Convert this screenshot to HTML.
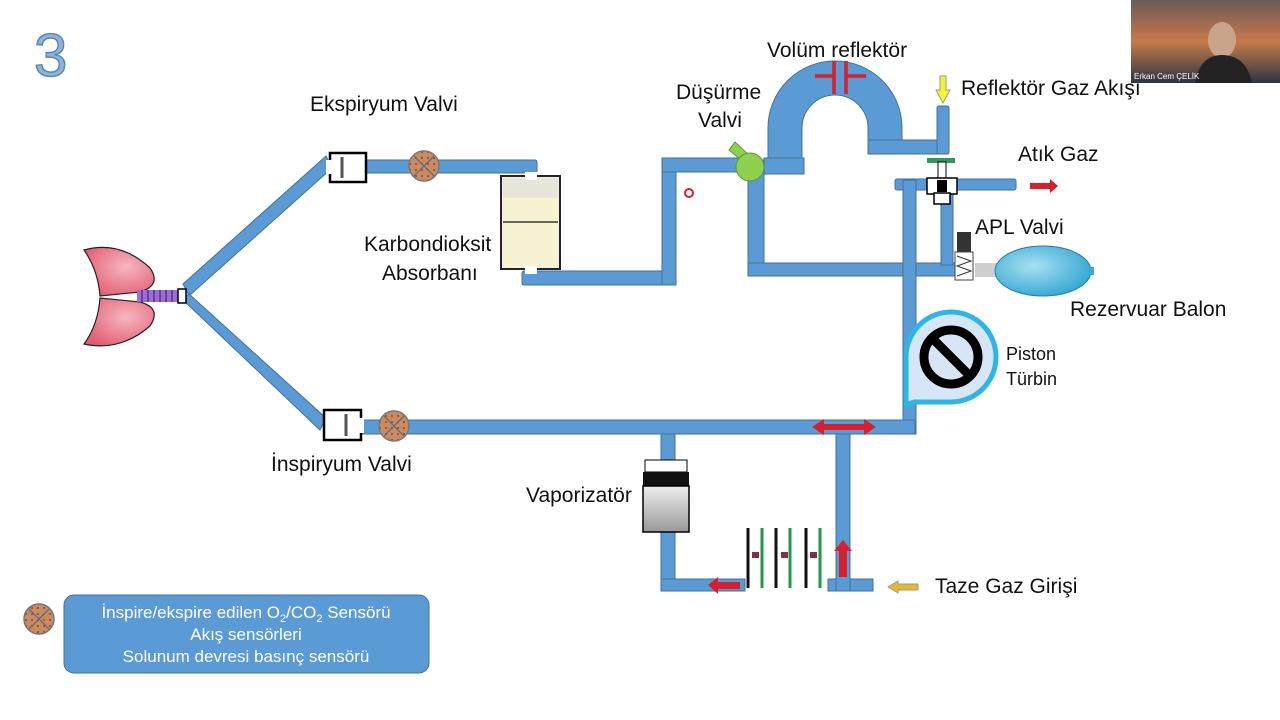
<!DOCTYPE html>
<html><head><meta charset="utf-8"><style>
html,body{margin:0;padding:0;background:#fff}
svg{display:block}
text{font-family:"Liberation Sans",sans-serif;fill:#111}
</style></head><body>
<svg width="1280" height="720" viewBox="0 0 1280 720" xmlns="http://www.w3.org/2000/svg">
<defs>
<radialGradient id="lung" cx="0.6" cy="0.4" r="0.7"><stop offset="0" stop-color="#f7b6c0"/><stop offset="1" stop-color="#e05a6e"/></radialGradient>
<radialGradient id="bag" cx="0.4" cy="0.4" r="0.7"><stop offset="0" stop-color="#a8e0f2"/><stop offset="1" stop-color="#2aa2cf"/></radialGradient>
<linearGradient id="vap" x1="0" y1="0" x2="0" y2="1"><stop offset="0" stop-color="#eee"/><stop offset="1" stop-color="#999"/></linearGradient>
<pattern id="sens" width="6" height="6" patternUnits="userSpaceOnUse"><rect width="6" height="6" fill="#c98b62"/><circle cx="2" cy="2" r="1" fill="#8a4b2a"/></pattern>
<linearGradient id="cam" x1="0" y1="0" x2="0" y2="1"><stop offset="0" stop-color="#6a5a58"/><stop offset="0.5" stop-color="#c77a4a"/><stop offset="1" stop-color="#2b3540"/></linearGradient>
</defs>
<rect width="1280" height="720" fill="#fff"/>
<text x="34" y="76" font-size="60" fill="#8fb4dc" stroke="#5b87b5" stroke-width="1.5" style="fill:#8fb4dc">3</text>

<g fill="#5b9bd5" stroke="#41719c" stroke-width="1">
<polygon points="183,284 326,156 332,168 189,296"/>
<polygon points="183,300 189,294 326,418 320,430"/>
<rect x="364" y="160" width="173" height="13" rx="2"/>
<rect x="522" y="271" width="154" height="14" rx="2"/>
<rect x="662" y="158" width="14" height="127"/>
<rect x="662" y="158" width="90" height="14"/>
<rect x="748" y="160" width="16" height="116"/>
<rect x="748" y="263" width="212" height="13"/>
<path d="M768,174 L768,128 A67,67 0 0 1 902,128 L902,154 L868,154 L868,128 A33,33 0 0 0 802,128 L802,174 Z"/>
<rect x="868" y="140" width="80" height="14"/>
<rect x="937" y="106" width="12" height="48" rx="2"/>
<rect x="764" y="158" width="40" height="16"/>
<rect x="895" y="179" width="121" height="11" rx="2"/>
<rect x="903" y="180" width="13" height="254"/>
<rect x="941" y="190" width="12" height="75"/>
<rect x="360" y="420" width="555" height="14" rx="2"/>
<rect x="661" y="434" width="14" height="28"/>
<rect x="661" y="530" width="14" height="61"/>
<rect x="661" y="579" width="84" height="12"/>
<rect x="828" y="579" width="45" height="12"/>
<rect x="836" y="434" width="14" height="157"/>
</g>

<path d="M84,250 Q120,240 150,268 Q162,285 140,292 L100,296 Q98,270 84,250Z" fill="url(#lung)" stroke="#222" stroke-width="1.2"/>
<path d="M84,344 Q120,352 150,326 Q162,308 140,302 L100,298 Q98,325 84,344Z" fill="url(#lung)" stroke="#222" stroke-width="1.2"/>
<rect x="137" y="290" width="44" height="12" fill="#9b6fd0"/>
<g stroke="#5a2f99" stroke-width="1.5"><line x1="142" y1="290" x2="142" y2="302"/><line x1="148" y1="290" x2="148" y2="302"/><line x1="154" y1="290" x2="154" y2="302"/><line x1="160" y1="290" x2="160" y2="302"/><line x1="166" y1="290" x2="166" y2="302"/><line x1="172" y1="290" x2="172" y2="302"/></g>
<rect x="178" y="289" width="8" height="14" fill="#fff" stroke="#000" stroke-width="1.5"/>

<rect x="330" y="153" width="36" height="29" fill="#fff" stroke="#000" stroke-width="2.5"/>
<rect x="326" y="160" width="10" height="14" fill="#fff"/>
<line x1="342" y1="157" x2="342" y2="178" stroke="#555" stroke-width="3"/>
<rect x="324" y="410" width="37" height="30" fill="#fff" stroke="#000" stroke-width="2.5"/>
<rect x="354" y="418" width="10" height="15" fill="#fff"/>
<line x1="346" y1="414" x2="346" y2="436" stroke="#555" stroke-width="3"/>
<g stroke="#777" stroke-width="1.5"><circle cx="424" cy="166" r="15" fill="url(#sens)"/><circle cx="394" cy="426" r="15" fill="url(#sens)"/><circle cx="39" cy="619" r="15" fill="url(#sens)"/></g>
<g stroke="#667" stroke-width="1.2"><line x1="414" y1="156" x2="434" y2="176"/><line x1="434" y1="156" x2="414" y2="176"/><line x1="384" y1="416" x2="404" y2="436"/><line x1="404" y1="416" x2="384" y2="436"/><line x1="29" y1="609" x2="49" y2="629"/><line x1="49" y1="609" x2="29" y2="629"/></g>

<rect x="501" y="176" width="59" height="93" fill="#f7f2d2" stroke="#223" stroke-width="2"/>
<rect x="503" y="178" width="55" height="20" fill="#ddd" opacity="0.6"/>
<line x1="503" y1="222" x2="558" y2="222" stroke="#665" stroke-width="2"/>
<rect x="525" y="172" width="12" height="8" fill="#fff"/>
<rect x="525" y="266" width="12" height="8" fill="#fff"/>

<polygon points="729,150 735,142 752,158 746,164" fill="#8fd14f" stroke="#5a9a2e"/>
<circle cx="750" cy="167" r="14" fill="#8fd14f" stroke="#5a9a2e"/>

<g stroke="#d81f2a" stroke-width="3.5"><line x1="834" y1="61" x2="834" y2="94"/><line x1="846" y1="61" x2="846" y2="94"/><line x1="815" y1="76" x2="834" y2="76"/><line x1="846" y1="76" x2="866" y2="76"/></g>
<polygon points="940,76 946,76 946,90 950,90 943,103 936,90 940,90" fill="#f5f52a" stroke="#999"/>

<rect x="927" y="158" width="28" height="5" fill="#2e9a5a"/>
<rect x="938" y="162" width="8" height="20" fill="#fff" stroke="#000"/>
<rect x="927" y="178" width="30" height="16" fill="#fff" stroke="#000" stroke-width="1.5"/>
<rect x="937" y="180" width="10" height="12" fill="#000"/>
<rect x="934" y="193" width="16" height="11" fill="#fff" stroke="#000" stroke-width="1.5"/>
<polygon points="1030,183 1050,183 1050,179 1058,186 1050,193 1050,189 1030,189" fill="#d81f2a"/>

<rect x="957" y="232" width="14" height="20" fill="#333"/>
<rect x="955" y="252" width="18" height="28" fill="#fff" stroke="#444"/>
<path d="M957,256 L971,261 L957,266 L971,271 L957,276" fill="none" stroke="#333"/>
<rect x="975" y="263" width="22" height="14" fill="#cfcfcf"/>
<ellipse cx="1043" cy="271" rx="48" ry="25" fill="url(#bag)" stroke="#1f7ea6"/>
<rect x="1089" y="267" width="5" height="8" fill="#3aa8d0"/>

<path d="M906,405 L906,357 A45,45 0 1 1 951,402 L914,402 Z" fill="#d6e6f7" stroke="#2ab6e6" stroke-width="5"/>
<circle cx="951" cy="357" r="27" fill="none" stroke="#000" stroke-width="9"/>
<line x1="933" y1="339" x2="969" y2="375" stroke="#000" stroke-width="9"/>

<polygon points="812,427 824,419 824,424 864,424 864,419 876,427 864,435 864,430 824,430 824,435" fill="#d81f2a"/>

<rect x="645" y="460" width="42" height="12" fill="#fff" stroke="#000"/>
<rect x="643" y="472" width="46" height="14" fill="#111"/>
<rect x="643" y="486" width="46" height="46" fill="url(#vap)" stroke="#000" stroke-width="1.5"/>

<g stroke-width="3">
<line x1="748" y1="528" x2="748" y2="588" stroke="#111"/><line x1="762" y1="528" x2="762" y2="588" stroke="#1d9a4a"/>
<line x1="776" y1="528" x2="776" y2="588" stroke="#111"/><line x1="790" y1="528" x2="790" y2="588" stroke="#1d9a4a"/>
<line x1="806" y1="528" x2="806" y2="588" stroke="#111"/><line x1="820" y1="528" x2="820" y2="588" stroke="#1d9a4a"/>
</g>
<g fill="#8a2b4a"><rect x="752" y="552" width="7" height="6"/><rect x="781" y="552" width="7" height="6"/><rect x="810" y="552" width="7" height="6"/></g>
<polygon points="708,585 718,577 718,582 740,582 740,589 718,589 718,594" fill="#d81f2a"/>
<polygon points="843,540 852,551 847,551 847,577 839,577 839,551 834,551" fill="#d81f2a"/>
<polygon points="888,587 898,581 898,584 918,584 918,590 898,590 898,593" fill="#e7b829" stroke="#999"/>

<circle cx="689" cy="193" r="4" fill="none" stroke="#d81f2a" stroke-width="2"/>

<g font-size="21">
<text x="310" y="111">Ekspiryum Valvi</text>
<text x="767" y="57">Volüm reflektör</text>
<text x="676" y="99">Düşürme</text>
<text x="698" y="127">Valvi</text>
<text x="961" y="95">Reflektör Gaz Akışı</text>
<text x="1018" y="161">Atık Gaz</text>
<text x="975" y="234">APL Valvi</text>
<text x="1070" y="316">Rezervuar Balon</text>
<text x="364" y="251">Karbondioksit</text>
<text x="382" y="280">Absorbanı</text>
<text x="271" y="471">İnspiryum Valvi</text>
<text x="526" y="502">Vaporizatör</text>
<text x="935" y="593">Taze Gaz Girişi</text>
</g>
<text x="1006" y="360" font-size="18">Piston</text>
<text x="1006" y="385" font-size="18">Türbin</text>

<rect x="64" y="595" width="365" height="78" rx="10" fill="#5b9bd5" stroke="#41719c"/>
<g font-size="17" text-anchor="middle">
<text x="246" y="618" style="fill:#fff">İnspire/ekspire edilen O<tspan font-size="11" dy="4">2</tspan><tspan dy="-4">/CO</tspan><tspan font-size="11" dy="4">2</tspan><tspan dy="-4"> Sensörü</tspan></text>
<text x="246" y="640" style="fill:#fff">Akış sensörleri</text>
<text x="246" y="662" style="fill:#fff">Solunum devresi basınç sensörü</text>
</g>

<rect x="1131" y="0" width="149" height="83" fill="url(#cam)"/>
<ellipse cx="1222" cy="40" rx="14" ry="18" fill="#c9a48a"/>
<path d="M1195,83 Q1200,55 1222,55 Q1246,55 1252,83Z" fill="#222"/>
<text x="1134" y="79" font-size="8" style="fill:#fff">Erkan Cem ÇELİK</text>
</svg>
</body></html>
